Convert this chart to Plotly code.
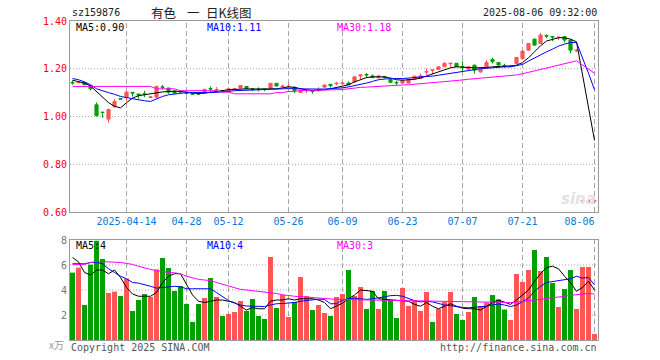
import pandas as pd
import plotly.graph_objects as go

# ---------------- data ----------------
holidays = ["2025-04-04", "2025-05-01", "2025-05-02", "2025-05-05", "2025-06-02"]
dates = [d.strftime("%Y-%m-%d") for d in pd.bdate_range("2025-03-31", "2025-08-06")
         if d.strftime("%Y-%m-%d") not in holidays]

opens = [1.143,1.141,1.142,1.130,1.049,1.018,0.989,1.041,1.075,1.080,
         1.101,1.094,1.095,1.080,1.081,1.124,1.119,1.107,1.106,1.099,
         1.097,1.096,1.098,1.117,1.111,1.108,1.107,1.115,1.119,1.126,
         1.116,1.115,1.115,1.119,1.139,1.125,1.124,1.123,1.101,1.108,
         1.107,1.111,1.123,1.135,1.137,1.138,1.140,1.145,1.170,1.176,
         1.170,1.162,1.167,1.154,1.143,1.140,1.140,1.156,1.159,1.186,
         1.193,1.197,1.208,1.221,1.223,1.209,1.198,1.215,1.187,1.204,
         1.239,1.226,1.213,1.211,1.222,1.243,1.278,1.324,1.306,1.339,
         1.335,1.330,1.334,1.320,1.275,0.645,0.645,0.645]
closes = [1.141,1.143,1.133,1.116,1.004,1.017,1.029,1.063,1.073,1.102,
          1.098,1.090,1.093,1.082,1.126,1.122,1.102,1.098,1.103,1.097,
          1.093,1.094,1.114,1.115,1.113,1.105,1.116,1.117,1.130,1.116,
          1.114,1.113,1.113,1.139,1.128,1.127,1.126,1.109,1.109,1.110,
          1.105,1.113,1.132,1.129,1.139,1.140,1.133,1.166,1.174,1.174,
          1.163,1.170,1.165,1.143,1.141,1.152,1.156,1.169,1.170,1.188,
          1.195,1.208,1.222,1.223,1.209,1.207,1.208,1.194,1.199,1.226,
          1.230,1.216,1.211,1.213,1.247,1.274,1.306,1.299,1.341,1.337,
          1.333,1.332,1.320,1.278,1.277,0.647,0.647,0.647]
highs = [1.151,1.145,1.143,1.131,1.059,1.018,1.033,1.074,1.076,1.109,
         1.101,1.095,1.108,1.084,1.128,1.132,1.120,1.110,1.108,1.100,
         1.098,1.098,1.115,1.126,1.123,1.110,1.117,1.119,1.131,1.127,
         1.118,1.122,1.116,1.140,1.140,1.134,1.137,1.124,1.110,1.112,
         1.108,1.122,1.133,1.136,1.145,1.142,1.147,1.168,1.175,1.182,
         1.176,1.172,1.170,1.156,1.149,1.153,1.157,1.170,1.180,1.201,
         1.196,1.209,1.229,1.224,1.224,1.232,1.210,1.217,1.200,1.236,
         1.246,1.227,1.221,1.215,1.250,1.276,1.308,1.326,1.350,1.344,
         1.335,1.333,1.337,1.322,1.282,0.648,0.648,0.648]
lows = [1.133,1.140,1.132,1.109,1.000,0.995,0.973,1.036,1.072,1.064,
        1.083,1.075,1.081,1.077,1.078,1.112,1.095,1.095,1.100,1.092,
        1.090,1.090,1.097,1.101,1.100,1.103,1.105,1.113,1.118,1.115,
        1.106,1.105,1.106,1.118,1.126,1.122,1.122,1.098,1.100,1.098,
        1.095,1.103,1.121,1.121,1.131,1.132,1.131,1.143,1.156,1.161,
        1.161,1.160,1.158,1.141,1.133,1.138,1.138,1.155,1.157,1.175,
        1.177,1.195,1.207,1.205,1.207,1.186,1.196,1.180,1.183,1.202,
        1.222,1.203,1.203,1.208,1.220,1.240,1.276,1.297,1.304,1.328,
        1.315,1.320,1.310,1.264,1.270,0.644,0.644,0.644]

ma5 = [1.152,1.145,1.140,1.128,1.105,1.081,1.058,1.043,1.036,1.058,
       1.077,1.087,1.092,1.094,1.099,1.103,1.105,1.106,1.105,1.102,
       1.097,1.096,1.098,1.102,1.107,1.109,1.112,1.113,1.116,1.116,
       1.115,1.115,1.114,1.114,1.116,1.120,1.124,1.122,1.115,1.111,
       1.109,1.109,1.112,1.116,1.121,1.126,1.133,1.145,1.154,1.163,
       1.166,1.167,1.166,1.161,1.154,1.152,1.153,1.156,1.161,1.170,
       1.177,1.187,1.197,1.204,1.208,1.208,1.205,1.204,1.204,1.205,
       1.208,1.211,1.211,1.211,1.215,1.226,1.246,1.271,1.296,1.316,
       1.324,1.330,1.330,1.324,1.313,1.170,1.033,0.900]
ma10 = [1.159,1.154,1.145,1.133,1.116,1.107,1.100,1.093,1.084,1.079,
        1.074,1.070,1.066,1.063,1.074,1.084,1.091,1.095,1.098,1.100,
        1.100,1.099,1.100,1.100,1.101,1.102,1.105,1.108,1.109,1.110,
        1.112,1.112,1.113,1.115,1.116,1.118,1.117,1.116,1.115,1.115,
        1.115,1.115,1.115,1.116,1.117,1.120,1.124,1.129,1.133,1.140,
        1.147,1.154,1.157,1.159,1.159,1.159,1.160,1.163,1.166,1.166,
        1.169,1.173,1.177,1.183,1.187,1.191,1.194,1.197,1.200,1.202,
        1.205,1.207,1.208,1.208,1.212,1.218,1.232,1.246,1.260,1.271,
        1.282,1.295,1.303,1.310,1.310,1.247,1.181,1.112]
ma30 = [1.126,1.126,1.126,1.126,1.126,1.126,1.126,1.126,1.126,1.126,
        1.126,1.126,1.126,1.126,1.116,1.116,1.116,1.116,1.108,1.108,
        1.108,1.108,1.108,1.108,1.108,1.102,1.102,1.095,1.095,1.095,
        1.095,1.095,1.095,1.095,1.100,1.100,1.105,1.105,1.109,1.109,
        1.109,1.109,1.109,1.109,1.112,1.113,1.117,1.120,1.122,1.123,
        1.125,1.126,1.128,1.129,1.131,1.132,1.133,1.135,1.136,1.138,
        1.140,1.143,1.146,1.148,1.150,1.153,1.156,1.158,1.160,1.162,
        1.164,1.166,1.168,1.170,1.174,1.179,1.185,1.191,1.197,1.203,
        1.209,1.215,1.221,1.227,1.233,1.216,1.199,1.181]

volume = [5.39,5.79,2.80,6.03,7.95,6.48,3.76,3.87,3.52,4.91,
          2.32,3.20,3.68,3.44,5.65,6.56,5.76,3.92,4.32,2.88,
          1.44,2.88,3.36,4.96,3.44,1.92,2.08,2.24,3.12,2.32,
          3.28,1.92,1.68,6.64,2.56,3.60,1.84,3.04,5.04,3.52,
          2.40,2.80,2.16,1.92,3.44,3.68,5.60,3.52,4.24,2.48,
          3.92,2.48,3.92,3.20,1.76,4.16,2.72,3.12,2.32,3.84,
          1.44,2.48,3.04,3.84,2.08,1.60,2.24,3.44,2.72,3.00,
          3.60,3.24,2.44,1.60,5.28,4.64,5.60,7.20,5.52,6.64,
          4.56,2.64,4.08,5.60,2.48,5.84,5.84,0.48]
vol_up = [0,1,0,0,0,0,1,1,0,1, 0,0,0,1,1,0,0,0,0,0,
          0,0,1,0,1,0,1,1,1,0, 0,0,0,1,0,1,1,0,1,1,
          0,1,1,0,1,1,0,1,1,0, 0,1,0,0,0,1,1,1,1,1,
          0,1,1,1,0,0,1,0,1,1, 0,0,0,1,1,1,1,0,1,0,
          0,1,0,0,1,1,1,1]
vma5 = [6.6,6.25,5.4,5.2,5.6,5.6,5.3,5.6,5.0,4.2,
        3.68,3.5,3.5,3.5,3.8,4.6,5.1,5.3,5.3,4.5,
        3.6,3.1,3.0,3.1,3.2,3.2,3.1,3.0,2.7,2.4,
        2.6,2.5,2.5,3.1,3.2,3.2,3.3,3.2,3.3,3.3,
        3.3,3.2,3.0,2.5,2.7,2.95,3.3,3.6,4.0,3.95,
        3.9,3.3,3.25,3.2,3.15,3.15,3.1,2.85,2.7,3.0,
        2.7,2.5,2.7,2.9,2.7,2.55,2.5,2.5,2.4,2.7,
        3.0,3.2,3.0,2.85,3.2,3.6,4.0,4.7,5.3,5.8,
        5.9,5.7,5.1,4.6,3.9,4.2,4.7,4.0]
vma10 = [6.1,6.1,6.1,6.2,6.2,6.1,5.7,5.4,5.1,4.9,
         4.6,4.55,4.45,4.3,4.15,4.2,4.3,4.3,4.25,4.1,
         4.1,4.1,4.1,4.1,3.8,3.45,3.15,2.95,2.8,2.72,
         2.72,2.72,2.68,2.8,2.9,2.92,2.95,3.0,3.1,3.15,
         3.2,3.27,3.25,2.9,2.9,3.2,3.3,3.35,3.3,3.25,
         3.3,3.35,3.45,3.55,3.57,3.5,3.3,3.15,3.05,3.1,
         3.05,2.9,2.8,2.75,2.65,2.6,2.58,2.6,2.62,2.7,
         2.8,2.88,2.8,2.68,2.8,3.1,3.35,3.9,4.3,4.6,
         4.67,4.72,4.8,4.9,5.1,4.95,5.0,4.4]
vma30 = [6.05,6.05,6.05,6.2,6.27,6.27,6.25,6.25,6.2,6.13,
         6.05,5.9,5.75,5.65,5.55,5.45,5.4,5.38,5.3,5.1,
         4.95,4.85,4.8,4.75,4.6,4.45,4.35,4.15,4.05,4.0,
         3.95,3.92,3.85,3.8,3.72,3.62,3.55,3.5,3.47,3.43,
         3.38,3.33,3.3,3.27,3.25,3.24,3.23,3.22,3.21,3.2,
         3.2,3.19,3.18,3.17,3.16,3.15,3.14,3.13,3.12,3.1,
         3.09,3.08,3.07,3.06,3.05,3.04,3.03,3.02,3.01,3.0,
         3.0,2.99,2.99,3.0,3.03,3.07,3.12,3.2,3.25,3.32,
         3.4,3.45,3.5,3.57,3.62,3.68,3.73,3.68]

tick_dates = ["2025-04-14", "2025-04-28", "2025-05-12", "2025-05-26", "2025-06-09",
              "2025-06-23", "2025-07-07", "2025-07-21", "2025-08-06"]
tick_labels = ["2025-04-14", "04-28", "05-12", "05-26", "06-09",
               "06-23", "07-07", "07-21", "08-06"]
price_ticks = [0.60, 0.80, 1.00, 1.20, 1.40]
vol_ticks = [2, 4, 6, 8]

# ---------------- style ----------------
W, H = 660, 360
RED, GREEN = "#ff5555", "#00a000"
GRID = "#a6a6a6"
FRAME = "#9a9a9a"
MONO = "DejaVu Sans Mono"
CJK = "Noto Sans CJK SC"
NBSP = "\u00a0"

def px(x):
    return x / W

def py(y):
    return 1 - y / H

X0, X1 = 70, 597.5
main_top, main_bot = 21, 212
vol_top, vol_bot = 240, 340

fig = go.Figure()

fig.add_trace(go.Candlestick(
    x=dates, open=opens, high=highs, low=lows, close=closes,
    increasing=dict(line=dict(color=RED, width=1), fillcolor=RED),
    decreasing=dict(line=dict(color=GREEN, width=1), fillcolor=GREEN),
    whiskerwidth=0, xaxis="x", yaxis="y", hoverinfo="skip"))

for vals, col in [(ma5, "#000000"), (ma10, "#0000ff"), (ma30, "#ff00ff")]:
    fig.add_trace(go.Scatter(x=dates, y=vals, mode="lines",
                             line=dict(color=col, width=1),
                             xaxis="x", yaxis="y", hoverinfo="skip"))

fig.add_trace(go.Bar(x=dates, y=volume,
                     marker=dict(color=[RED if u else GREEN for u in vol_up], line=dict(width=0)),
                     xaxis="x2", yaxis="y2", hoverinfo="skip"))
for vals, col in [(vma5, "#000000"), (vma10, "#0000ff"), (vma30, "#ff00ff")]:
    fig.add_trace(go.Scatter(x=dates, y=vals, mode="lines",
                             line=dict(color=col, width=1),
                             xaxis="x2", yaxis="y2", hoverinfo="skip"))

# grid lines (dashed verticals at the date ticks, dotted horizontals at the value ticks)
for xa, ya in [("x", "y"), ("x2", "y2")]:
    for d in tick_dates:
        fig.add_shape(type="line", xref=xa, yref=f"{ya} domain", x0=d, x1=d, y0=0, y1=1,
                      line=dict(color=GRID, width=1, dash="5px,3px"), layer="below")
for v in price_ticks[1:-1]:
    fig.add_shape(type="line", xref="x domain", yref="y", x0=0, x1=1, y0=v, y1=v,
                  line=dict(color=GRID, width=1, dash="1px,2px"), layer="below")
for v in vol_ticks[:-1]:
    fig.add_shape(type="line", xref="x2 domain", yref="y2", x0=0, x1=1, y0=v, y1=v,
                  line=dict(color=GRID, width=1, dash="1px,2px"), layer="below")

# the last date label sits flush against the right frame, as in the original
shown_labels = tick_labels[:-1] + [tick_labels[-1] + NBSP * 5]

common_x = dict(type="category", categoryorder="array", categoryarray=dates,
                range=[-0.42, len(dates) - 0.5], domain=[px(X0), px(X1)],
                tickvals=tick_dates, showgrid=False,
                showline=True, linecolor=FRAME, linewidth=1, mirror=True,
                ticks="", zeroline=False, automargin=False,
                rangeslider=dict(visible=False))
common_y = dict(showgrid=False,
                showline=True, linecolor=FRAME, linewidth=1, mirror=True,
                ticks="", zeroline=False, automargin=False)

fig.update_layout(
    template="none",
    width=W, height=H, margin=dict(l=0, r=0, t=0, b=0, pad=0),
    paper_bgcolor="white", plot_bgcolor="white", showlegend=False,
    bargap=0.17, boxgap=0.25,
    xaxis=dict(**common_x, anchor="y", ticktext=shown_labels,
               tickfont=dict(family=MONO, size=10, color="#0a78d8")),
    yaxis=dict(**common_y, domain=[py(main_bot), py(main_top)], range=[0.60, 1.40],
               tickvals=price_ticks, ticktext=[f"{v:.2f}" for v in price_ticks],
               tickfont=dict(family=MONO, size=10, color="#ff0000"), anchor="x"),
    xaxis2=dict(**common_x, anchor="y2", showticklabels=False),
    yaxis2=dict(**common_y, domain=[py(vol_bot), py(vol_top)], range=[0, 8],
                tickvals=vol_ticks, ticktext=[str(v) for v in vol_ticks],
                tickfont=dict(family=MONO, size=10, color="#777777"), anchor="x2"),
)

def note(text, x, y, color="#000000", anchor="left", size=10, family=MONO):
    fig.add_annotation(text=text, x=px(x), y=py(y), xref="paper", yref="paper",
                       xanchor=anchor, yanchor="middle", showarrow=False,
                       font=dict(family=family, size=size, color=color))

note("sz159876", 70, 13, "#222222")
note("有色", 163.5, 12.5, "#222222", anchor="center", size=12.5, family=CJK)
note("一", 193, 12.5, "#222222", anchor="center", size=12.5, family=CJK)
note("日K线图", 229, 12.5, "#222222", anchor="center", size=12.5, family=CJK)
note("2025-08-06 09:32:00", 599, 13, "#222222", anchor="right")
note(f"MA5:{ma5[-1]:.2f}", 74, 27.5)
note(f"MA10:{ma10[-1]:.2f}", 205, 27.5, "#0000ff")
note(f"MA30:{ma30[-1]:.2f}", 335, 27.5, "#ff00ff")
note(f"MA5:{int(vma5[-1])}", 74, 245)
note(f"MA10:{int(vma10[-1])}", 205, 245, "#0000ff")
note(f"MA30:{int(vma30[-1])}", 335, 245, "#ff00ff")
note("x万", 66, 344, "#999999", anchor="right", size=10, family=CJK)
note("Copyright 2025 SINA.COM", 69, 347, "#555555")
note("http://finance.sina.com.cn", 599, 347, "#555555", anchor="right")
note("<i><b>sina</b></i>", 578, 199, "#e2e2e2", anchor="center", size=15,
     family="DejaVu Sans")

fig.write_html("out.html", config={"displayModeBar": False, "staticPlot": True},
               post_script="document.body.style.margin='0';document.body.style.padding='0';")
